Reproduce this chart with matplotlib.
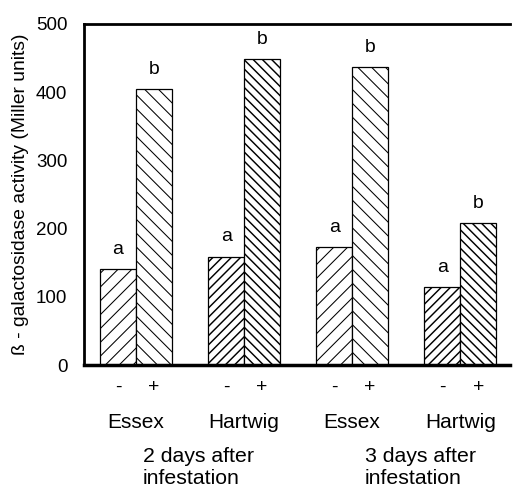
import matplotlib
matplotlib.use("Agg")
import matplotlib.pyplot as plt
import numpy as np

DPI = 83
S = 100.0 / DPI  # point sizes designed for 100 dpi

plt.rcParams['font.family'] = ['Liberation Sans', 'DejaVu Sans']
plt.rcParams['hatch.linewidth'] = 0.8 * S
plt.rcParams['hatch.color'] = 'black'

cultivars = ["Essex", "Hartwig", "Essex", "Hartwig"]
minus_vals = [140, 159, 173, 114]
plus_vals = [404, 449, 437, 208]
minus_letters = ["a", "a", "a", "a"]
plus_letters = ["b", "b", "b", "b"]
sign_labels = ["-", "+"]
group_labels = ["2 days after\ninfestation", "3 days after\ninfestation"]
minus_hatches = ["//", "///", "//", "///"]
plus_hatches = ["\\\\", "\\\\\\", "\\\\", "\\\\\\"]
hatch_lw = [0.75, 1.05, 0.75, 1.05]

fig = plt.figure(figsize=(513 / DPI, 487 / DPI), dpi=DPI)
ax = fig.add_axes([0.164, 0.2505, 0.83, 0.7005])

x = np.arange(len(cultivars))
w = 0.333
for i in range(len(cultivars)):
    b1 = ax.bar(x[i] - w / 2, minus_vals[i], w, facecolor='white', edgecolor='black',
                linewidth=0.9 * S, hatch=minus_hatches[i])
    b2 = ax.bar(x[i] + w / 2, plus_vals[i], w, facecolor='white', edgecolor='black',
                linewidth=0.9 * S, hatch=plus_hatches[i])
    for p in list(b1) + list(b2):
        try:
            p.set_hatch_linewidth(hatch_lw[i] * S)
        except Exception:
            pass
    ax.annotate(minus_letters[i], (x[i] - w / 2, minus_vals[i]), xytext=(0, 8 * S),
                textcoords='offset points', ha='center', va='bottom', fontsize=14 * S)
    ax.annotate(plus_letters[i], (x[i] + w / 2, plus_vals[i]), xytext=(0, 8 * S),
                textcoords='offset points', ha='center', va='bottom', fontsize=14 * S)

ax.set_ylim(0, 500)
ax.set_xlim(-0.48, 3.46)
ax.set_yticks([0, 100, 200, 300, 400, 500])
ax.tick_params(axis='y', length=0, labelsize=13.5 * S, pad=12 * S)

ticks = []
labels = []
for i in range(len(cultivars)):
    ticks += [x[i] - w / 2, x[i] + w / 2]
    labels += sign_labels
ax.set_xticks(ticks)
ax.set_xticklabels(labels, fontsize=14 * S)
ax.tick_params(axis='x', length=0, pad=10 * S)

for i, c in enumerate(cultivars):
    ax.text(x[i], -0.185, c, transform=ax.get_xaxis_transform(), ha='center',
            va='baseline', fontsize=15 * S)

group_x = [0.065, 2.12]
for gx, gl in zip(group_x, group_labels):
    ax.text(gx, -0.35, gl, transform=ax.get_xaxis_transform(), ha='left',
            va='baseline', fontsize=15.3 * S, multialignment='left')

ax.set_ylabel("ß - galactosidase activity (Miller units)", fontsize=13.9 * S, labelpad=5 * S)

ax.spines['right'].set_visible(False)
ax.spines['top'].set_linewidth(2 * S)
ax.spines['left'].set_linewidth(2 * S)
ax.spines['bottom'].set_linewidth(2.5 * S)

fig.savefig("out.png", dpi=DPI)
